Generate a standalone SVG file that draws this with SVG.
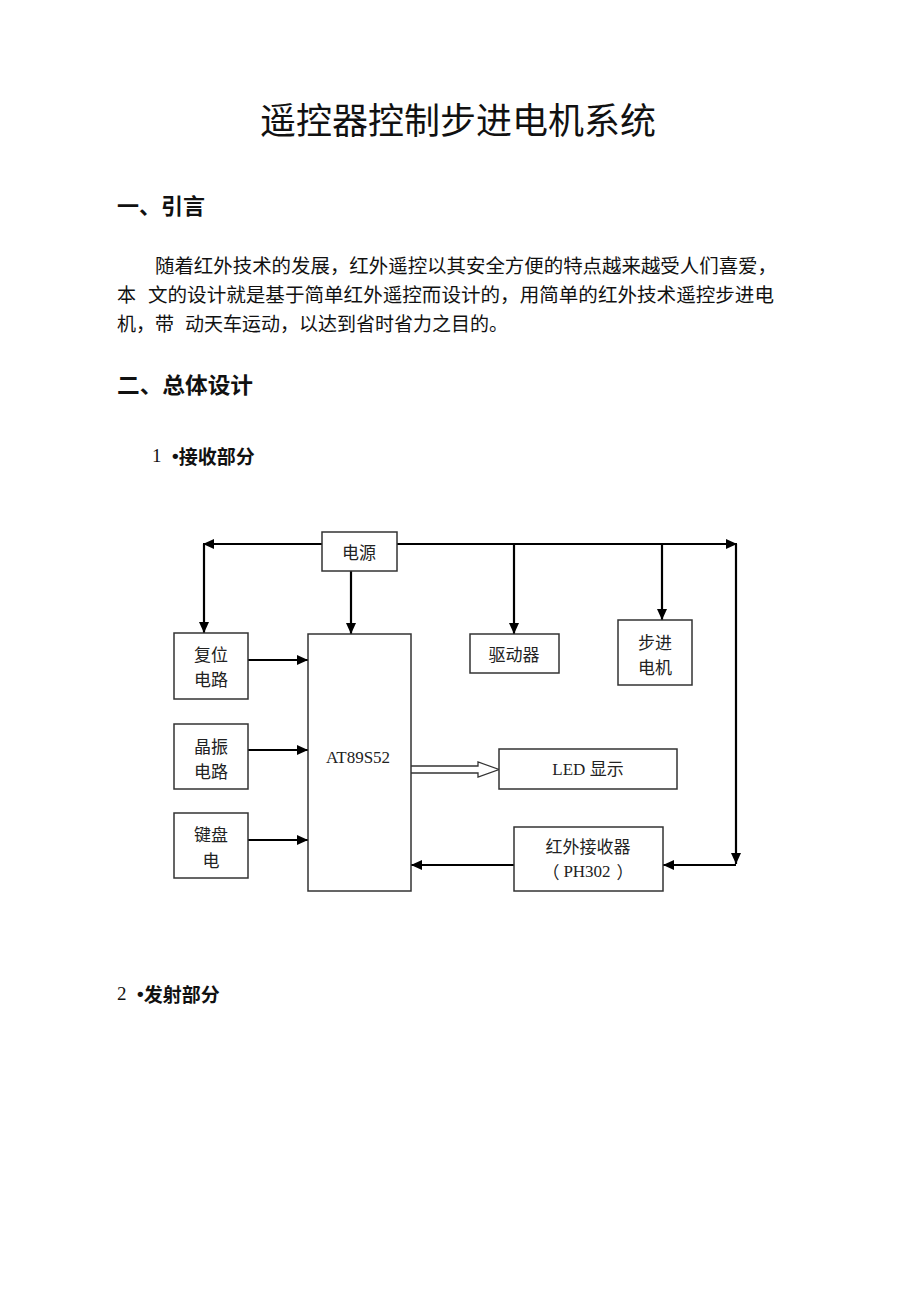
<svg xmlns="http://www.w3.org/2000/svg" width="920" height="1301" viewBox="0 0 920 1301">
<style>
.cjk{font-family:"Noto Sans CJK SC","Noto Sans",sans-serif;fill:#111;dominant-baseline:central}
.ser{font-family:"Liberation Serif","Noto Sans CJK SC",serif;fill:#111;dominant-baseline:central}
.box{fill:#fff;stroke:#333;stroke-width:1.5}
.lbl{font-family:"Noto Sans CJK SC",sans-serif;font-size:17px;fill:#222;text-anchor:middle;dominant-baseline:central}
.lbls{font-family:"Liberation Serif","Noto Sans CJK SC",serif;font-size:17px;fill:#222;text-anchor:middle;dominant-baseline:central}
.ln{fill:none;stroke:#000;stroke-width:2.2}
</style>
<defs>
<marker id="ah" markerUnits="userSpaceOnUse" markerWidth="12" markerHeight="12" viewBox="0 0 12 12" refX="11" refY="6" orient="auto">
<path d="M0,1 L11,6 L0,11 Z" fill="#000"/>
</marker>
</defs>
<rect width="920" height="1301" fill="#fff"/>
<g id="text">
<text class="cjk" x="458" y="118" font-size="36" text-anchor="middle">遥控器控制步进电机系统</text>
<text class="cjk" x="117" y="204" font-size="22" font-weight="bold" textLength="88" lengthAdjust="spacingAndGlyphs">一、引言</text>
<text class="cjk" x="155" y="264" font-size="19" textLength="622" lengthAdjust="spacingAndGlyphs">随着红外技术的发展，红外遥控以其安全方便的特点越来越受人们喜爱，</text>
<text class="cjk" x="117" y="293" font-size="19">本</text>
<text class="cjk" x="148" y="293" font-size="19" textLength="626" lengthAdjust="spacingAndGlyphs">文的设计就是基于简单红外遥控而设计的，用简单的红外技术遥控步进电</text>
<text class="cjk" x="117" y="322" font-size="19">机，带</text>
<text class="cjk" x="185" y="322" font-size="19" textLength="323" lengthAdjust="spacingAndGlyphs">动天车运动，以达到省时省力之目的。</text>
<text class="cjk" x="117" y="383" font-size="22" font-weight="bold" textLength="136" lengthAdjust="spacingAndGlyphs">二、总体设计</text>
<text class="ser" x="152" y="455" font-size="19">1</text>
<text class="cjk" x="172" y="455" font-size="19" font-weight="bold"><tspan font-family="Liberation Sans,sans-serif">•</tspan>接收部分</text>
<text class="ser" x="117" y="993" font-size="19">2</text>
<text class="cjk" x="137" y="993" font-size="19" font-weight="bold"><tspan font-family="Liberation Sans,sans-serif">•</tspan>发射部分</text>
</g>
<g id="connectors">
<path class="ln" d="M322,544 H203" marker-end="url(#ah)"/>
<path class="ln" d="M204,544 V633" marker-end="url(#ah)"/>
<path class="ln" d="M397,544 H737" marker-end="url(#ah)"/>
<path class="ln" d="M736,544 V864" marker-end="url(#ah)"/>
<path class="ln" d="M736,865 H663" marker-end="url(#ah)"/>
<path class="ln" d="M351,571 V634" marker-end="url(#ah)"/>
<path class="ln" d="M514,544 V634" marker-end="url(#ah)"/>
<path class="ln" d="M662,544 V620" marker-end="url(#ah)"/>
<path class="ln" d="M248,660 H308" marker-end="url(#ah)"/>
<path class="ln" d="M248,750 H308" marker-end="url(#ah)"/>
<path class="ln" d="M248,840 H308" marker-end="url(#ah)"/>
<path class="ln" d="M514,865 H411" marker-end="url(#ah)"/>
<path d="M411,766 H478 V762 L499,769.5 L478,777 V773 H411" fill="#fff" stroke="#333" stroke-width="1.3"/>
</g>
<g id="power">
<rect class="box" x="322" y="532" width="75" height="39"/>
<text class="lbl" x="359" y="551">电源</text>
</g>
<g id="reset">
<rect class="box" x="174" y="633" width="74" height="66"/>
<text class="lbl" x="211" y="653">复位</text>
<text class="lbl" x="211" y="678">电路</text>
</g>
<g id="crystal">
<rect class="box" x="174" y="724" width="74" height="65"/>
<text class="lbl" x="211" y="745">晶振</text>
<text class="lbl" x="211" y="770">电路</text>
</g>
<g id="keyboard">
<rect class="box" x="174" y="813" width="74" height="65"/>
<text class="lbl" x="211" y="833">键盘</text>
<text class="lbl" x="211" y="859">电</text>
</g>
<g id="mcu">
<rect class="box" x="308" y="634" width="103" height="257"/>
<text class="lbls" x="358" y="757">AT89S52</text>
</g>
<g id="driver">
<rect class="box" x="470" y="634" width="89" height="39"/>
<text class="lbl" x="514" y="653">驱动器</text>
</g>
<g id="motor">
<rect class="box" x="618" y="620" width="74" height="65"/>
<text class="lbl" x="655" y="641">步进</text>
<text class="lbl" x="655" y="666">电机</text>
</g>
<g id="led">
<rect class="box" x="499" y="749" width="178" height="40"/>
<text class="lbls" x="588" y="769">LED 显示</text>
</g>
<g id="ir">
<rect class="box" x="514" y="827" width="149" height="64"/>
<text class="lbl" x="588" y="845">红外接收器</text>
<text class="lbl" x="551" y="871">（</text>
<text class="lbls" x="587" y="871">PH302</text>
<text class="lbl" x="625" y="871">）</text>
</g>
</svg>
